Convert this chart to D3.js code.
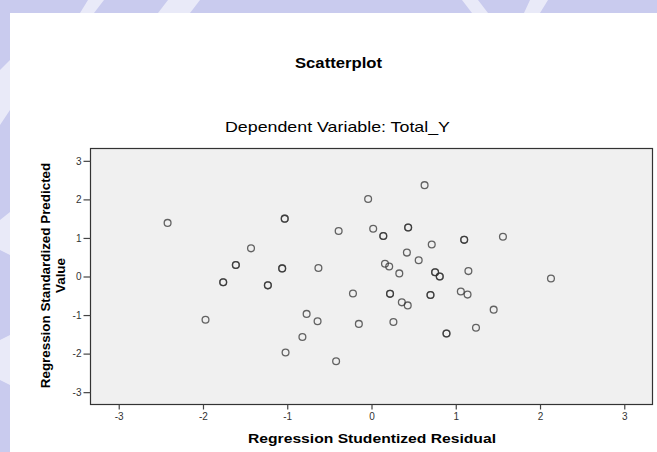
<!DOCTYPE html>
<html>
<head>
<meta charset="utf-8">
<script src="https://cdn.jsdelivr.net/npm/d3@7"></script>
<style>
  html, body { margin: 0; padding: 0; background: #fff; }
  svg { display: block; font-family: "Liberation Sans", Arial, sans-serif; }
</style>
</head>
<body>
<div id="chart"></div>
<script>
// Values (overlapping cases listed twice)
var residual = [-2.42, -1.03, -1.03, -1.43, -1.61, -1.61, -1.06, -1.06, -1.76, -1.76,
                -1.23, -1.23, -0.77, -1.97, 0.63, -0.04, -0.39, 0.02, 0.14, 0.14,
                0.435, 0.435, 1.10, 1.10, 1.56, 0.715, 0.42, 0.56, -0.63, 0.16,
                0.21, 0.33, 0.755, 0.755, 0.81, 0.81, 1.15, -0.22, 0.22, 0.22,
                0.70, 0.70, 1.06, 1.14, 0.36, 0.43, 1.45, -0.64, -0.15, 0.26,
                1.24, -0.82, -1.02, -0.42, 0.89, 0.89, 2.13];
var predicted = [1.39, 1.50, 1.50, 0.73, 0.30, 0.30, 0.21, 0.21, -0.15, -0.15,
                 -0.23, -0.23, -0.97, -1.12, 2.37, 2.01, 1.18, 1.24, 1.05, 1.05,
                 1.27, 1.27, 0.95, 0.95, 1.03, 0.83, 0.62, 0.42, 0.22, 0.33,
                 0.26, 0.08, 0.11, 0.11, 0.00, 0.00, 0.14, -0.44, -0.45, -0.45,
                 -0.48, -0.48, -0.39, -0.47, -0.67, -0.75, -0.86, -1.16, -1.23, -1.18,
                 -1.33, -1.57, -1.97, -2.20, -1.48, -1.48, -0.05];
var xTicks = [-3, -2, -1, 0, 1, 2, 3];
var yTicks = [-3, -2, -1, 0, 1, 2, 3];

var w = 657, h = 452;

var svg = d3.select("#chart").append("svg")
    .attr("width", w)
    .attr("height", h);

// background watermark band + white page
svg.append("rect").attr("width", w).attr("height", h).attr("fill", "#c9cbee");
var blobs = [
  [[88,0],[104,0],[94,13],[80,13]],
  [[168,0],[200,0],[190,13],[158,13]],
  [[462,0],[478,0],[488,13],[472,13]],
  [[530,0],[548,0],[540,13],[524,13]],
  [[0,70],[10,60],[10,110],[0,125]],
  [[0,220],[10,212],[10,255],[0,250]],
  [[0,340],[10,335],[10,385],[0,380]]
];
svg.selectAll(".blob").data(blobs).enter().append("polygon")
    .attr("class", "blob")
    .attr("points", function(d){ return d.join(" "); })
    .attr("fill", "#fff").attr("opacity", 0.6);
svg.append("rect").attr("x", 10).attr("y", 13).attr("width", w - 10).attr("height", h - 13).attr("fill", "#fff");

// plot frame edges
var pLeft = 90.5, pRight = 652.5, pTop = 148.5, pBottom = 404.5;

var x = d3.scaleLinear().domain([-3.335, 3.335]).range([pLeft, pRight]);
var y = d3.scaleLinear().domain([-3.32, 3.32]).range([pBottom, pTop]);

// plot area
svg.append("rect")
    .attr("x", pLeft).attr("y", pTop)
    .attr("width", pRight - pLeft).attr("height", pBottom - pTop)
    .attr("fill", "#f0f0f0")
    .attr("stroke", "#333").attr("stroke-width", 1.2);

// axes
var fmt = function(d){ return String(d); };
var xAxis = svg.append("g")
    .attr("transform", "translate(0," + pBottom + ")")
    .call(d3.axisBottom(x).tickValues(xTicks).tickFormat(fmt).tickSize(5).tickPadding(3).tickSizeOuter(0));
var yAxis = svg.append("g")
    .attr("transform", "translate(" + pLeft + ",0)")
    .call(d3.axisLeft(y).tickValues(yTicks).tickFormat(fmt).tickSize(7).tickPadding(2).tickSizeOuter(0));

[xAxis, yAxis].forEach(function(g){
  g.select(".domain").remove();
  g.selectAll(".tick line").attr("stroke", "#444").attr("stroke-width", 1.2);
  g.selectAll(".tick text")
      .attr("fill", "#333")
      .style("font-family", "'Liberation Sans', Arial, sans-serif")
      .style("font-size", "10px");
});

// points
svg.append("g").selectAll("circle")
    .data(d3.range(residual.length))
    .enter()
    .append("circle")
    .attr("cx", function(i){ return x(residual[i]); })
    .attr("cy", function(i){ return y(predicted[i]); })
    .attr("r", 3.4)
    .attr("fill", "none")
    .attr("stroke", "#333")
    .attr("stroke-opacity", 0.75)
    .attr("stroke-width", 1.3);

// titles
svg.append("text")
    .attr("x", 338.5).attr("y", 68)
    .attr("text-anchor", "middle")
    .attr("textLength", 87).attr("lengthAdjust", "spacingAndGlyphs")
    .style("font-size", "14px").style("font-weight", "bold")
    .text("Scatterplot");

svg.append("text")
    .attr("x", 337.5).attr("y", 132)
    .attr("text-anchor", "middle")
    .attr("textLength", 225).attr("lengthAdjust", "spacingAndGlyphs")
    .style("font-size", "15px")
    .text("Dependent Variable: Total_Y");

svg.append("text")
    .attr("x", 372).attr("y", 443)
    .attr("text-anchor", "middle")
    .attr("textLength", 248).attr("lengthAdjust", "spacingAndGlyphs")
    .style("font-size", "13.4px").style("font-weight", "bold")
    .text("Regression Studentized Residual");

var yTitle = svg.append("text")
    .attr("transform", "translate(50,275.5) rotate(-90)")
    .attr("text-anchor", "middle")
    .style("font-size", "13.4px").style("font-weight", "bold");
yTitle.append("tspan").attr("x", 0).attr("y", 0).text("Regression Standardized Predicted");
yTitle.append("tspan").attr("x", 0).attr("y", 14.5).text("Value");
</script>
</body>
</html>
